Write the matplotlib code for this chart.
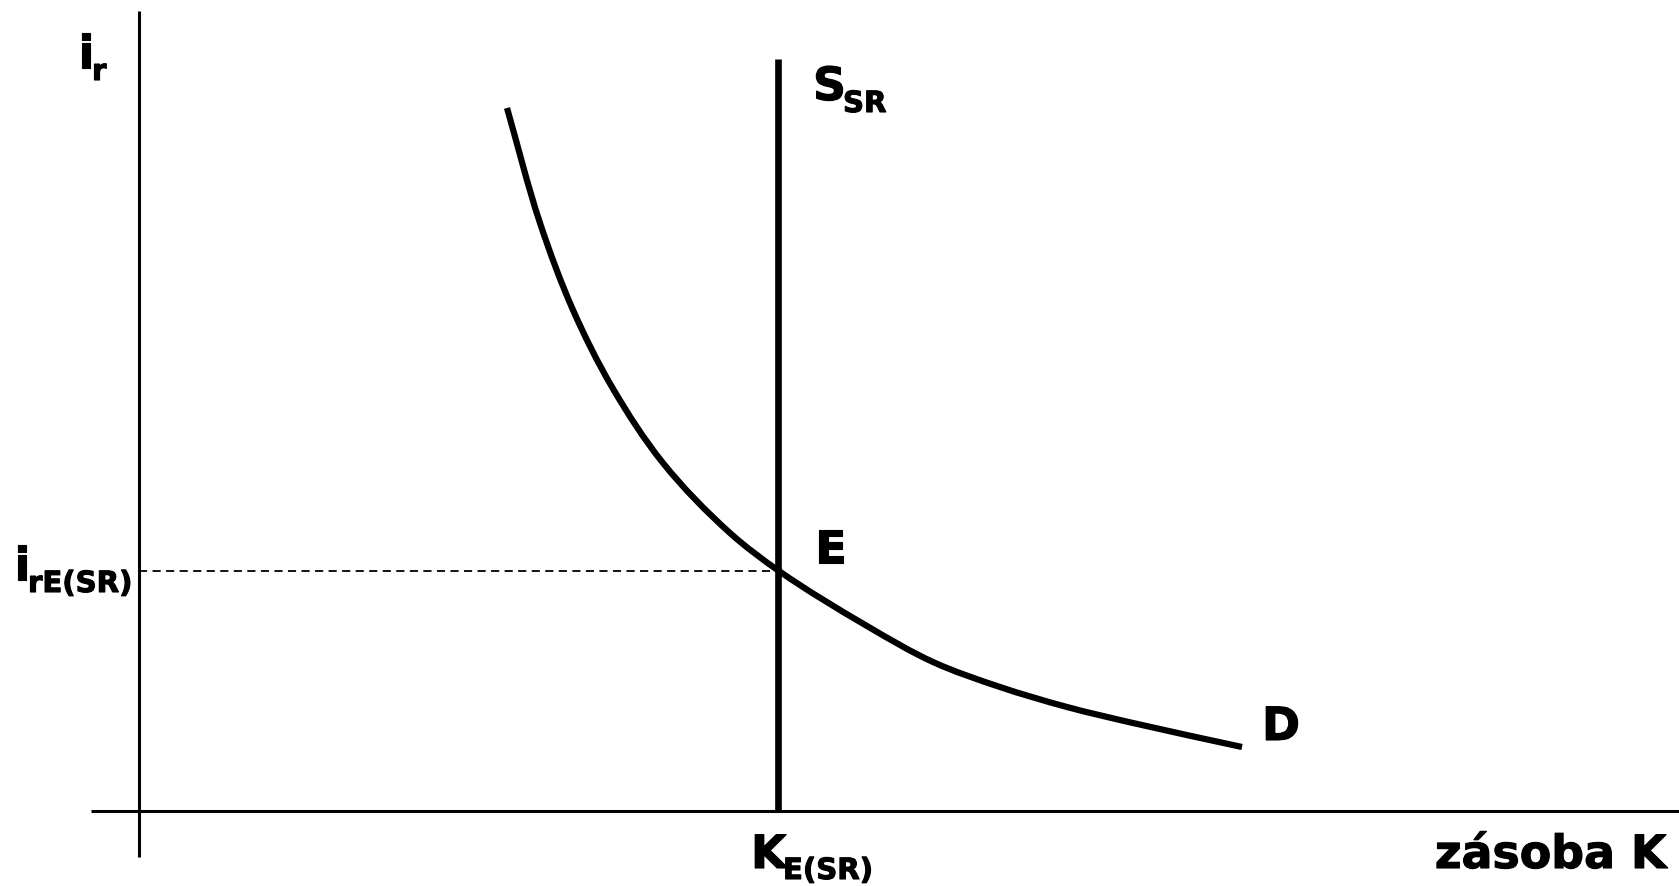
import matplotlib
matplotlib.use("Agg")
import matplotlib.pyplot as plt
from matplotlib.path import Path
from matplotlib.patches import PathPatch
import matplotlib.patheffects as pe
import numpy as np

# ---- data (abstract units: origin at the axes crossing) ----
# demand curve D (capital stock K, real interest rate i_r)
demand_k = [3.68, 4.01, 4.34, 4.73, 5.24, 5.91, 6.40, 7.28, 7.94, 8.61, 9.28, 9.94, 11.03]
demand_i = [7.03, 5.88, 5.01, 4.24, 3.48, 2.78, 2.40, 1.85, 1.49, 1.24, 1.04, 0.88, 0.64]
# short-run supply (vertical) and equilibrium
supply_k = 6.39
supply_top = 7.52
eq_i = 2.40

x_axis_range = [-0.48, 15.40]
y_axis_range = [-0.46, 8.00]

# ---- figure ----
W, H = 1679, 886
fig = plt.figure(figsize=(W / 100, H / 100), dpi=100)
ax = fig.add_axes([0, 0, 1, 1])
OX, OY, S = 139, 811, 100.0
ax.set_xlim(-OX / S, (W - OX) / S)
ax.set_ylim((OY - H) / S, OY / S)
ax.axis("off")


def P(x, y):
    return (x - OX) / S, (OY - y) / S


# axes
ax.plot(x_axis_range, [0, 0], color="black", lw=2.2, solid_capstyle="butt")
ax.plot([0, 0], y_axis_range, color="black", lw=2.2, solid_capstyle="butt")

# dashed equilibrium line
ax.plot([0, supply_k], [eq_i, eq_i], color="black", lw=1.3, ls=(0, (4.5, 3)))

# supply line
ax.plot([supply_k, supply_k], [0, supply_top], color="black", lw=4.8, solid_capstyle="butt")

# demand curve: smooth cubic Bezier path through the read points (chord-scaled Catmull-Rom tangents)
pts = np.column_stack([demand_k, demand_i])
verts = [tuple(pts[0])]
codes = [Path.MOVETO]
n = len(pts)


def tangent(j):
    if j == 0:
        return pts[1] - pts[0]
    if j == n - 1:
        return pts[-1] - pts[-2]
    d0 = np.linalg.norm(pts[j] - pts[j - 1])
    d1 = np.linalg.norm(pts[j + 1] - pts[j])
    u0 = (pts[j] - pts[j - 1]) / d0
    u1 = (pts[j + 1] - pts[j]) / d1
    t = u0 + u1
    return t / np.linalg.norm(t)


for j in range(n - 1):
    p1, p2 = pts[j], pts[j + 1]
    seg = np.linalg.norm(p2 - p1)
    t1, t2 = tangent(j), tangent(j + 1)
    t1 = t1 / np.linalg.norm(t1)
    t2 = t2 / np.linalg.norm(t2)
    c1 = p1 + t1 * seg / 3.0
    c2 = p2 - t2 * seg / 3.0
    verts += [tuple(c1), tuple(c2), tuple(p2)]
    codes += [Path.CURVE4] * 3
ax.add_patch(PathPatch(Path(verts, codes), fill=False, edgecolor="black", lw=4.5,
                       capstyle="butt", joinstyle="round"))

FONT = "DejaVu Sans"
BIG = 33
SMALL = 21
stroke = [pe.withStroke(linewidth=0.8, foreground="black")]


def label(x, y, main, sub=None, sx=None, sy=None, big=BIG, small=SMALL):
    ax.text(*P(x, y), main, fontsize=big, fontweight="bold", family=FONT,
            ha="left", va="baseline", color="black", path_effects=stroke)
    if sub:
        ax.text(*P(sx, sy), sub, fontsize=small, fontweight="bold", family=FONT,
                ha="left", va="baseline", color="black", path_effects=stroke)


label(78, 68, "i", "r", 92, 80)
label(14, 580, "i", "rE(SR)", 28, 592)
label(751, 868, "K", "E(SR)", 783, 879)
label(813, 100, "S", "SR", 843, 112)
label(815, 563, "E")
label(1262, 740, "D")
ax.text(*P(1667, 868), "zásoba K", fontsize=BIG, fontweight="bold", family=FONT,
        ha="right", va="baseline", color="black", path_effects=stroke)

fig.savefig("out.png", dpi=100, facecolor="white")
